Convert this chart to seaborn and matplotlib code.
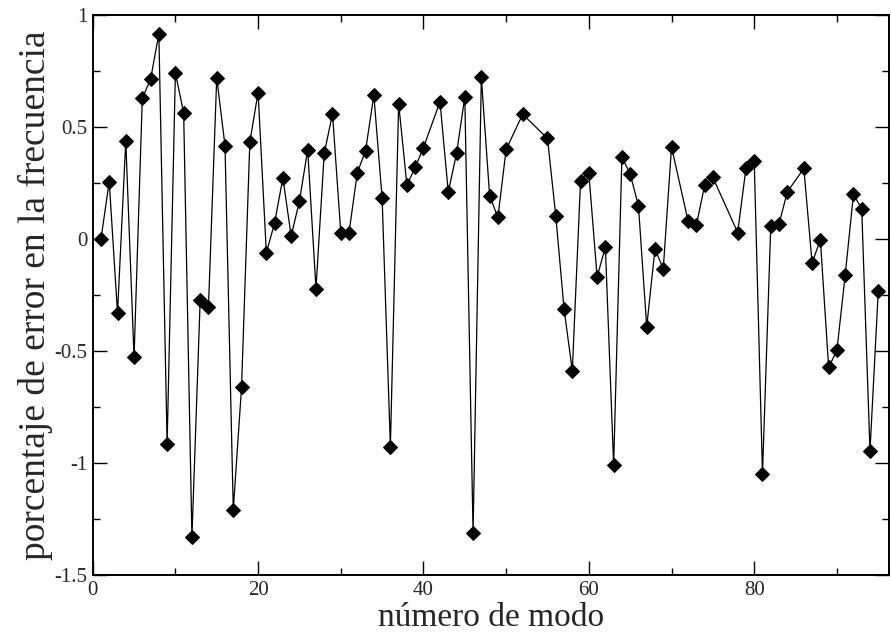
import matplotlib
matplotlib.use("Agg")
import matplotlib.pyplot as plt
import seaborn as sns
import pandas as pd
from matplotlib.ticker import MultipleLocator, FormatStrFormatter

# Mode numbers and relative frequency error (%)
modos = [1, 2, 3, 4, 5, 6, 7, 8, 9, 10,
         11, 12, 13, 14, 15, 16, 17, 18, 19, 20,
         21, 22, 23, 24, 25, 26, 27, 28, 29, 30,
         31, 32, 33, 34, 35, 36, 37, 38, 39, 40,
         42, 43, 44, 45, 46, 47, 48, 49, 50, 52,
         55, 56, 57, 58, 59, 60, 61, 62, 63, 64,
         65, 66, 67, 68, 69, 70, 72, 73, 74, 75,
         78, 79, 80, 81, 82, 83, 84, 86, 87, 88,
         89, 90, 91, 92, 93, 94, 95]
error = [0.000, 0.256, -0.331, 0.438, -0.529, 0.629, 0.713, 0.916, -0.916, 0.742,
         0.562, -1.331, -0.271, -0.303, 0.720, 0.416, -1.210, -0.662, 0.432, 0.654,
         -0.062, 0.072, 0.273, 0.013, 0.169, 0.398, -0.221, 0.382, 0.559, 0.029,
         0.029, 0.296, 0.395, 0.642, 0.183, -0.927, 0.604, 0.240, 0.320, 0.408,
         0.613, 0.209, 0.382, 0.634, -1.312, 0.721, 0.194, 0.096, 0.400, 0.557,
         0.449, 0.104, -0.311, -0.588, 0.260, 0.295, -0.170, -0.035, -1.010, 0.366,
         0.290, 0.148, -0.392, -0.043, -0.134, 0.411, 0.081, 0.061, 0.239, 0.275,
         0.029, 0.315, 0.350, -1.049, 0.056, 0.067, 0.210, 0.315, -0.107, -0.003,
         -0.573, -0.497, -0.162, 0.199, 0.135, -0.946, -0.234]

x_ticks = [0, 20, 40, 60, 80]
y_ticks = [-1.5, -1, -0.5, 0, 0.5, 1]

sns.set_style("ticks")
plt.rcParams["font.family"] = ["Liberation Serif", "DejaVu Serif"]
plt.rcParams["axes.unicode_minus"] = False

df = pd.DataFrame({"modo": modos, "error": error})

fig = plt.figure(figsize=(8.91, 6.39), dpi=100)
ax = fig.add_axes([92.7 / 891, 1 - 575 / 639, (889 - 92.7) / 891, (575 - 15) / 639])

sns.lineplot(data=df, x="modo", y="error", ax=ax, estimator=None, sort=False,
             color="black", linewidth=0.9, marker="D", markersize=7.5,
             markeredgecolor="black", markerfacecolor="black")

ax.set_xlim(0, 96.3)
ax.set_ylim(-1.5, 1)
ax.set_xticks(x_ticks)
ax.set_yticks(y_ticks)
ax.xaxis.set_minor_locator(MultipleLocator(10))
ax.yaxis.set_minor_locator(MultipleLocator(0.25))
ax.yaxis.set_major_formatter(FormatStrFormatter("%g"))

ax.tick_params(which="both", direction="in", top=True, right=True,
               labelsize=15, color="black", width=1.0, pad=4)
ax.tick_params(which="major", length=10)
ax.tick_params(which="minor", length=5)
for sp in ax.spines.values():
    sp.set_linewidth(1.4)
    sp.set_color("black")

ax.set_xlabel("número de modo", fontsize=24, labelpad=2)
ax.set_ylabel("porcentaje de error en la frecuencia", fontsize=27, labelpad=1)

fig.savefig("out.png", dpi=100)
